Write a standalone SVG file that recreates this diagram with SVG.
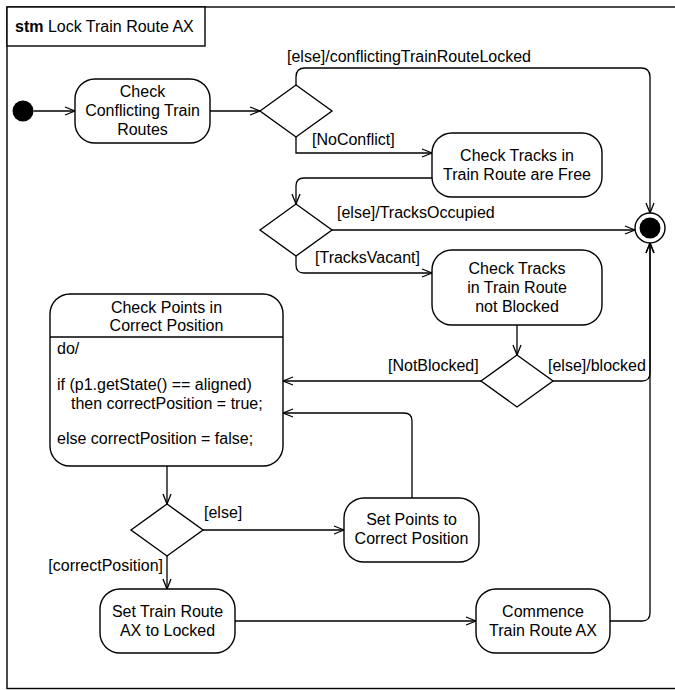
<svg xmlns="http://www.w3.org/2000/svg" width="675" height="690" viewBox="0 0 675 690">
<defs>
<style>
text{font-family:"Liberation Sans",Arial,sans-serif;font-size:16px;fill:#000}
.c{text-anchor:middle}
.e{text-anchor:end}
.box{fill:#fff;stroke:#000;stroke-width:1.4}
.ln{fill:none;stroke:#000;stroke-width:1.3}
.dia{fill:#fff;stroke:#000;stroke-width:1.4}
</style>
<marker id="arr" viewBox="0 0 12 10" refX="11" refY="5" markerWidth="12" markerHeight="10" markerUnits="userSpaceOnUse" orient="auto">
<path d="M1,1 L11,5 L1,9" fill="none" stroke="#000" stroke-width="1.3"/>
</marker>
</defs>
<rect width="675" height="690" fill="#fff"/>
<g id="frame">
<rect x="7" y="7" width="680" height="681.5" fill="none" stroke="#000" stroke-width="1.4"/>
<rect x="7" y="7" width="198" height="39" fill="#fff" stroke="#000" stroke-width="1.4"/>
<text x="15" y="32"><tspan font-weight="bold">stm</tspan> Lock Train Route AX</text>
</g>
<g id="connectors">
<path class="ln" d="M33.5,111 H75" marker-end="url(#arr)"/>
<path class="ln" d="M210,111 H260" marker-end="url(#arr)"/>
<path class="ln" d="M296,85 V77 Q296,68 305,68 H641 Q650,68 650,77 V213" marker-end="url(#arr)"/>
<text x="287" y="62">[else]/conflictingTrainRouteLocked</text>
<path class="ln" d="M296,137 V153 H432" marker-end="url(#arr)"/>
<text x="312" y="145">[NoConflict]</text>
<path class="ln" d="M432,178 H304 Q296,178 296,186 V204" marker-end="url(#arr)"/>
<path class="ln" d="M332,230 H635" marker-end="url(#arr)"/>
<text x="337" y="218">[else]/TracksOccupied</text>
<path class="ln" d="M296,256 V265 Q296,273 304,273 H432" marker-end="url(#arr)"/>
<text x="315" y="263">[TracksVacant]</text>
<path class="ln" d="M517,325 V355" marker-end="url(#arr)"/>
<path class="ln" d="M481,381 H283" marker-end="url(#arr)"/>
<text x="388" y="371">[NotBlocked]</text>
<path class="ln" d="M553,381 H642 Q650,381 650,373 V243" marker-end="url(#arr)"/>
<text x="548" y="371">[else]/blocked</text>
<path class="ln" d="M167,466 V504" marker-end="url(#arr)"/>
<path class="ln" d="M203,530 H344" marker-end="url(#arr)"/>
<text x="204" y="518">[else]</text>
<path class="ln" d="M167,556 V589" marker-end="url(#arr)"/>
<text class="e" x="163" y="571">[correctPosition]</text>
<path class="ln" d="M412,498 V421 Q412,413 404,413 H283" marker-end="url(#arr)"/>
<path class="ln" d="M235,621 H476" marker-end="url(#arr)"/>
<path class="ln" d="M610,621 H642 Q650,621 650,613 V243" marker-end="url(#arr)"/>
</g>
<g id="initial">
<circle cx="23" cy="111" r="10.5" fill="#000"/>
</g>
<g id="final">
<circle cx="650" cy="228" r="15" fill="#fff" stroke="#000" stroke-width="1.4"/>
<circle cx="650" cy="228" r="10.5" fill="#000"/>
</g>
<g id="checkConflicting">
<rect class="box" x="75" y="79" width="135" height="64" rx="20"/>
<text class="c" x="142.5" y="97">Check</text>
<text class="c" x="142.5" y="116">Conflicting Train</text>
<text class="c" x="142.5" y="134.5">Routes</text>
</g>
<g id="decision1">
<polygon class="dia" points="260,111 296,85 332,111 296,137"/>
</g>
<g id="checkTracksFree">
<rect class="box" x="432" y="133" width="170" height="64" rx="20"/>
<text class="c" x="517" y="161">Check Tracks in</text>
<text class="c" x="517" y="180">Train Route are Free</text>
</g>
<g id="decision2">
<polygon class="dia" points="260,230 296,204 332,230 296,256"/>
</g>
<g id="checkTracksNotBlocked">
<rect class="box" x="432" y="250" width="170" height="75" rx="20"/>
<text class="c" x="517" y="274">Check Tracks</text>
<text class="c" x="517" y="293">in Train Route</text>
<text class="c" x="517" y="312">not Blocked</text>
</g>
<g id="decision3">
<polygon class="dia" points="481,381 517,355 553,381 517,407"/>
</g>
<g id="checkPoints">
<rect class="box" x="50" y="294" width="233" height="172" rx="20"/>
<line x1="50" y1="337" x2="283" y2="337" stroke="#000" stroke-width="1.4"/>
<text class="c" x="166.5" y="313">Check Points in</text>
<text class="c" x="166.5" y="331">Correct Position</text>
<text x="57" y="354">do/</text>
<text x="57" y="390">if (p1.getState() == aligned)</text>
<text x="71" y="408.5">then correctPosition = true;</text>
<text x="57" y="443.5">else correctPosition = false;</text>
</g>
<g id="decision4">
<polygon class="dia" points="131,530 167,504 203,530 167,556"/>
</g>
<g id="setPoints">
<rect class="box" x="344" y="498" width="135" height="64" rx="20"/>
<text class="c" x="411.5" y="525">Set Points to</text>
<text class="c" x="411.5" y="543.5">Correct Position</text>
</g>
<g id="setLocked">
<rect class="box" x="100" y="589" width="135" height="64" rx="20"/>
<text class="c" x="167.5" y="617">Set Train Route</text>
<text class="c" x="167.5" y="636">AX to Locked</text>
</g>
<g id="commence">
<rect class="box" x="476" y="589" width="134" height="64" rx="20"/>
<text class="c" x="543" y="617">Commence</text>
<text class="c" x="543" y="635.5">Train Route AX</text>
</g>
</svg>
